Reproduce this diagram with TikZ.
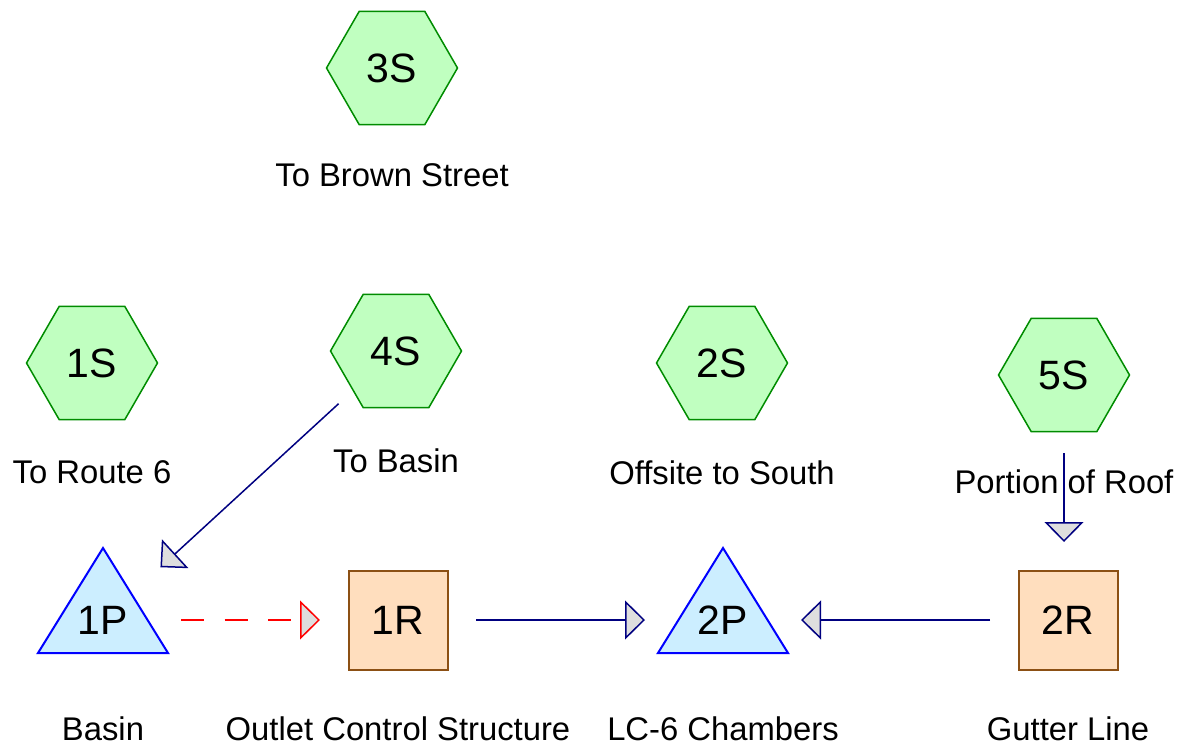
\documentclass[tikz,border=0pt]{standalone}
\usepackage{fontspec}
\setmainfont{Liberation Sans}
\usetikzlibrary{shapes.geometric,arrows.meta}
\definecolor{hexfill}{RGB}{192,255,192}
\definecolor{hexdraw}{RGB}{0,140,0}
\definecolor{trifill}{RGB}{204,238,255}
\definecolor{tridraw}{RGB}{0,0,255}
\definecolor{sqfill}{RGB}{255,222,190}
\definecolor{sqdraw}{RGB}{140,80,20}
\definecolor{linkcol}{RGB}{0,0,128}
\definecolor{tipfill}{RGB}{222,222,222}
\tikzset{
  hexnode/.style={regular polygon, regular polygon sides=6, minimum size=131pt, inner sep=0pt,
    draw=hexdraw, fill=hexfill, line width=1.5pt, font=\fontsize{41}{49}\selectfont},
  sqnode/.style={rectangle, minimum size=99pt, inner sep=0pt, draw=sqdraw, fill=sqfill,
    line width=2pt, font=\fontsize{41}{49}\selectfont},
  trinode/.style={inner sep=0pt, font=\fontsize{41}{49}\selectfont},
  trishape/.style={draw=tridraw, fill=trifill, line width=2pt, line join=miter},
  lbl/.style={anchor=base, inner sep=0pt, font=\fontsize{32.8}{39}\selectfont},
  link/.style={draw=linkcol, line width=1.5pt, shorten <=78pt, shorten >=78pt,
    -{Triangle[length=20pt,width=39pt,fill=tipfill,line join=miter]}},
  dlink/.style={draw=red, line width=1.5pt, shorten <=78pt, shorten >=78pt, dash pattern=on 23pt off 20.5pt,
    -{Triangle[length=20pt,width=39pt,fill=tipfill,line join=miter]}}
}
\begin{document}
\begin{tikzpicture}[x=1pt,y=-1pt]
\useasboundingbox (0,0) rectangle (1183,751);
% subcatchments
\node[hexnode] (n3S) at (392,68) {3S};
\node[hexnode] (n1S) at (92,363) {1S};
\node[hexnode] (n4S) at (396,351) {4S};
\node[hexnode] (n2S) at (722,363) {2S};
\node[hexnode] (n5S) at (1064,375) {5S};
\node[lbl] (l3S) at (392,187) {To Brown Street};
\node[lbl] (l1S) at (92,483) {To Route 6};
\node[lbl] (l4S) at (396,472) {To Basin};
\node[lbl] (l2S) at (722,484) {Offsite to South};
\node[lbl] (l5S) at (1064,493) {Portion of Roof};
% ponds
\draw[trishape] (38,653) -- (103,548) -- (168,653) -- cycle;
\draw[trishape] (658,653) -- (723,548) -- (788,653) -- cycle;
\node[trinode] (n1P) at (103,620) {1P};
\node[trinode] (n2P) at (723,620) {2P};
% reaches
\node[sqnode] (n1R) at (398,620) {1R};
\node[sqnode] (n2R) at (1068,620) {2R};
\node[lbl] (l1P) at (103,740) {Basin};
\node[lbl] (l1R) at (398,740) {Outlet Control Structure};
\node[lbl] (l2P) at (723,740) {LC-6 Chambers};
\node[lbl] (l2R) at (1068,740) {Gutter Line};
% links
\draw[link] (n4S.center) -- (n1P.center);
\draw[dlink] (n1P.center) -- (n1R.center);
\draw[link] (n1R.center) -- (n2P.center);
\draw[link] (n2R.center) -- (n2P.center);
\draw[link] (n5S.center) -- (n5S.center |- n2R.center);
\end{tikzpicture}
\end{document}
